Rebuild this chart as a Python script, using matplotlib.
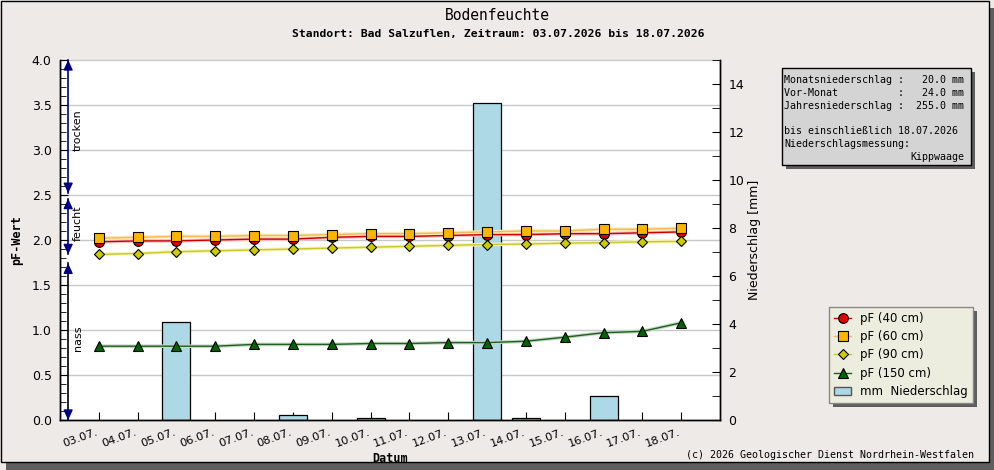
import numpy as np
import matplotlib
matplotlib.use("Agg")
import matplotlib.pyplot as plt
from matplotlib.patches import Rectangle, Patch
from matplotlib.lines import Line2D
from matplotlib.ticker import MultipleLocator
from matplotlib.transforms import ScaledTranslation

# ── data ─────────────────────────────────────────────────────────────────────
dates = ["03.07.", "04.07.", "05.07.", "06.07.", "07.07.", "08.07.", "09.07.", "10.07.",
         "11.07.", "12.07.", "13.07.", "14.07.", "15.07.", "16.07.", "17.07.", "18.07."]
pf_40 = [1.98, 1.99, 1.99, 2.00, 2.01, 2.01, 2.03, 2.04,
         2.04, 2.05, 2.06, 2.06, 2.07, 2.07, 2.08, 2.09]
pf_60 = [2.02, 2.03, 2.04, 2.04, 2.05, 2.05, 2.06, 2.07,
         2.07, 2.08, 2.09, 2.10, 2.10, 2.12, 2.12, 2.13]
pf_90 = [1.84, 1.85, 1.87, 1.88, 1.89, 1.90, 1.91, 1.92,
         1.93, 1.94, 1.95, 1.955, 1.965, 1.97, 1.98, 1.985]
pf_150 = [0.82, 0.82, 0.82, 0.82, 0.84, 0.84, 0.84, 0.85,
          0.85, 0.86, 0.86, 0.875, 0.92, 0.97, 0.985, 1.08]
rain_mm = [0, 0, 4.1, 0, 0, 0.2, 0, 0.1, 0, 0, 13.2, 0.1, 0, 1.0, 0, 0]

# soil moisture classes (pF ranges)
zones = [("trocken", 2.52, 4.0, "#000080", 3.22),
         ("feucht", 1.84, 2.46, "#000080", 2.19),
         ("nass", 0.0, 1.74, "black", 0.91)]

info_lines = ["Monatsniederschlag :   20.0 mm",
              "Vor-Monat          :   24.0 mm",
              "Jahresniederschlag :  255.0 mm",
              "",
              "bis einschließlich 18.07.2026",
              "Niederschlagsmessung:"]

# ── layout helpers (pixel -> figure fraction) ────────────────────────────────
W, H = 995, 470
def fx(px): return px / W
def fy(py): return 1 - py / H

BG = "#EDEAE8"
MONO = "DejaVu Sans Mono"

fig = plt.figure(figsize=(W / 100, H / 100), dpi=100, facecolor=BG)

# outer frame with shadow
fig.patches.append(Rectangle((fx(6), 0), fx(989), 462 / H, transform=fig.transFigure,
                             facecolor="#5E5E5E", edgecolor="none", zorder=-10))
fig.patches.append(Rectangle((fx(0.5), fy(462)), fx(988.5), 461.5 / H, transform=fig.transFigure,
                             facecolor=BG, edgecolor="black", lw=1, zorder=-9))

ax_mm = fig.add_axes([fx(60), fy(420), fx(660), 360 / H])
ax_pf = ax_mm.twinx()
ax_pf.yaxis.tick_left()
ax_pf.yaxis.set_label_position("left")
ax_mm.yaxis.tick_right()
ax_mm.yaxis.set_label_position("right")

x = np.arange(len(dates))
ax_mm.set_facecolor("white")
ax_mm.set_xlim(-1, 16)
ax_mm.set_ylim(0, 15)
ax_pf.set_ylim(0, 4)

# horizontal grid (pF scale), drawn below the bars
ax_mm.hlines(np.arange(0.5, 4.01, 0.5), -1, 16, transform=ax_pf.transData,
             colors="#C8C8C8", lw=1, zorder=0.5, clip_on=False)

# precipitation bars
rain = np.array(rain_mm)
wet = rain > 0
ax_mm.bar(x[wet], rain[wet], width=0.72, color="#ADD8E6", edgecolor="black",
          lw=0.9, zorder=2)

# pF series with a soft glow underneath
series = [
    (pf_40, "pF (40 cm)", "o", "#E00000", "#C80000", "#F6C0C0", 7),
    (pf_60, "pF (60 cm)", "s", "#FFB400", "#F2BC50", "#FBE8B8", 6.5),
    (pf_90, "pF (90 cm)", "D", "#CCCC00", "#C8C828", "#F4F4B0", 5.5),
    (pf_150, "pF (150 cm)", "^", "#006400", "#1E5E1E", "#C4D8C4", 7),
]
handles = []
for vals, lab, mk, mfc, lc, glow, ms in series:
    ax_pf.plot(x, vals, color=glow, lw=2.6, solid_capstyle="round", zorder=3)
    ax_pf.plot(x, vals, color=lc, lw=1.0, marker=mk, ms=ms, mfc=mfc, mec="black",
               mew=0.8, zorder=4)
    handles.append(Line2D([], [], color=lc, lw=1.0, marker=mk, ms=ms, mfc=mfc,
                          mec="black", mew=0.8, label=lab))
handles.append(Patch(facecolor="#ADD8E6", edgecolor="#555555", label="mm  Niederschlag"))

# zone arrows on the left
xz = -0.79
for name, lo, hi, col, ytxt in zones:
    ax_pf.plot([xz, xz], [lo, hi], color=col, lw=1.2, zorder=5, clip_on=False)
    for tip, base in ((hi, hi - 0.05), (lo, lo + 0.05)):
        ax_pf.annotate("", xy=(xz, tip), xytext=(xz, base),
                       arrowprops=dict(arrowstyle="-|>,head_length=0.6,head_width=0.28",
                                       color="#000080", lw=1, mutation_scale=10,
                                       shrinkA=0, shrinkB=0), zorder=6,
                       annotation_clip=False)
    ax_pf.text(-0.54, ytxt, name, rotation=90, ha="center", va="center",
               fontsize=8, color="black", zorder=6)

# ticks and spines
for a in (ax_mm, ax_pf):
    a.spines["top"].set_visible(False)
    for s in ("left", "right", "bottom"):
        a.spines[s].set_color("black")
        a.spines[s].set_linewidth(1)

ax_pf.set_yticks(np.arange(0, 4.01, 0.5))
ax_pf.set_yticklabels([f"{v:.1f}" for v in np.arange(0, 4.01, 0.5)])
ax_pf.yaxis.set_minor_locator(MultipleLocator(0.1))
ax_pf.tick_params(axis="y", which="both", direction="in", labelsize=9, pad=6)
ax_pf.tick_params(axis="y", which="major", length=6)
ax_pf.tick_params(axis="y", which="minor", length=4)

ax_mm.set_yticks(np.arange(0, 15, 2))
ax_mm.yaxis.set_minor_locator(MultipleLocator(1))
ax_mm.tick_params(axis="y", which="both", direction="in", labelsize=9, pad=6)
ax_mm.tick_params(axis="y", which="major", length=6)
ax_mm.tick_params(axis="y", which="minor", length=6)

ax_mm.set_xticks(x)
ax_mm.set_xticklabels(dates, rotation=20, ha="right", va="top", rotation_mode="anchor")
ax_mm.tick_params(axis="x", direction="in", length=6, labelsize=8.2, pad=5)
shift = ScaledTranslation(-3 / 100, 0, fig.dpi_scale_trans)
for lbl in ax_mm.get_xticklabels():
    lbl.set_transform(lbl.get_transform() + shift)

ax_pf.set_ylabel("pF-Wert", fontsize=8.5, fontweight="bold", family=MONO, labelpad=6)
ax_mm.set_ylabel("Niederschlag [mm]", fontsize=9, labelpad=3)
ax_mm.set_xlabel("Datum", fontsize=8.5, fontweight="bold", family=MONO, labelpad=2)

# titles
fig.text(fx(497), fy(15), "Bodenfeuchte", ha="center", va="center",
         fontsize=10.5, family=MONO)
fig.text(fx(498), fy(34), "Standort: Bad Salzuflen, Zeitraum: 03.07.2026 bis 18.07.2026",
         ha="center", va="center", fontsize=8.2, fontweight="bold", family=MONO)

# info box
fig.patches.append(Rectangle((fx(786), fy(169)), fx(189), 97 / H, transform=fig.transFigure,
                             facecolor="#5E5E5E", edgecolor="none", zorder=1))
fig.patches.append(Rectangle((fx(782), fy(165.5)), fx(189), 97 / H, transform=fig.transFigure,
                             facecolor="#D4D4D4", edgecolor="black", lw=1, zorder=2))
for i, line in enumerate(info_lines):
    fig.text(fx(784), fy(80 + i * 12.8), line, ha="left", va="center",
             fontsize=7.2, family=MONO, zorder=3)
fig.text(fx(964), fy(157), "Kippwaage", ha="right", va="center",
         fontsize=7.2, family=MONO, zorder=3)

# legend
leg = ax_pf.legend(handles=handles, loc="upper left",
                   bbox_to_anchor=(fx(829), fy(306.5)), bbox_transform=fig.transFigure,
                   fontsize=8.5, frameon=True, fancybox=False, facecolor="#ECECDF",
                   edgecolor="#888888", framealpha=1, borderaxespad=0, borderpad=0.45,
                   labelspacing=0.45, handlelength=1.45, handletextpad=0.75)
leg.get_frame().set_linewidth(1)
leg.set_zorder(10)
fig.canvas.draw()
bb = leg.get_window_extent().transformed(fig.transFigure.inverted())
fig.patches.append(Rectangle((bb.x0 + fx(4), bb.y0 - 4 / H), bb.width, bb.height,
                             transform=fig.transFigure, facecolor="#5E5E5E",
                             edgecolor="none", zorder=-5))

fig.text(fx(974), fy(455), "(c) 2026 Geologischer Dienst Nordrhein-Westfalen",
         ha="right", va="center", fontsize=7.2, family=MONO)

fig.savefig("out.png", dpi=100, facecolor=BG)
